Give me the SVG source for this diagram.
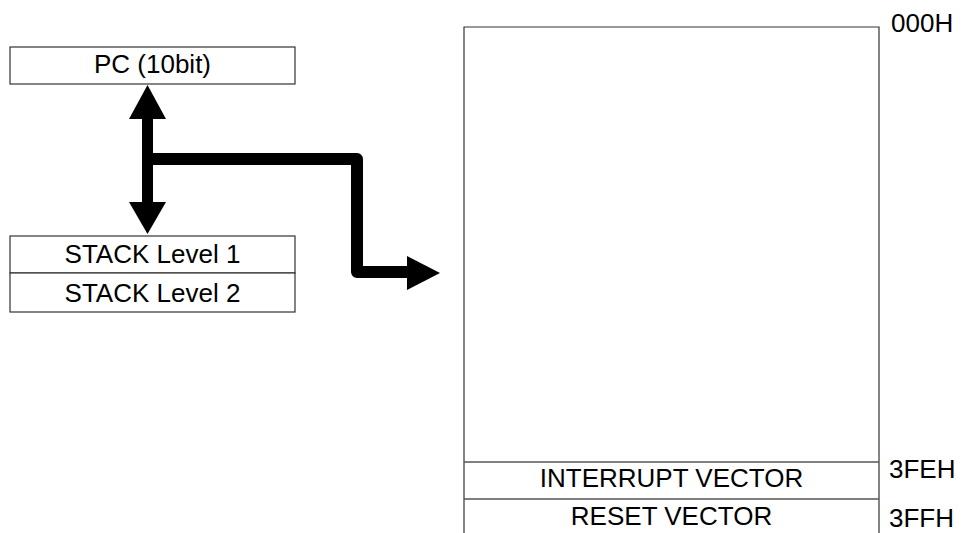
<svg xmlns="http://www.w3.org/2000/svg" width="962" height="533" viewBox="0 0 962 533">
<style>
.box{fill:#fff;stroke:#333;stroke-width:1.2}
.ln{stroke:#333;stroke-width:1.2;fill:none}
.sep{stroke:#555;stroke-width:1.6;fill:none}
text{font-family:"Liberation Sans",Arial,sans-serif;font-size:26px;fill:#000}
.c{text-anchor:middle}
.arr{fill:#000;stroke:none}
.wire{fill:none;stroke:#000;stroke-width:12;stroke-linejoin:round;stroke-linecap:butt}
</style>
<rect width="962" height="533" fill="#fff"/>
<g id="pc"><rect class="box" x="10" y="47" width="285" height="37"/><text class="c" x="152.5" y="73">PC (10bit)</text></g>
<g id="stack1"><rect class="box" x="10" y="236" width="285" height="37"/><text class="c" x="152.5" y="263">STACK Level 1</text></g>
<g id="stack2"><rect class="box" x="10" y="273" width="285" height="39"/><text class="c" x="152.5" y="302">STACK Level 2</text></g>
<g id="memory">
<path class="ln" d="M464,533 V27 H879 V533"/>
</g>
<g id="interrupt"><path class="sep" d="M464,462 H879"/><text class="c" x="671.5" y="487">INTERRUPT VECTOR</text></g>
<g id="reset"><path class="sep" d="M464,499 H879"/><text class="c" x="671.5" y="525">RESET VECTOR</text></g>
<g id="labels">
<text x="891" y="32">000H</text>
<text x="889" y="478">3FEH</text>
<text x="889" y="527">3FFH</text>
</g>
<g id="connectors">
<path class="arr" d="M147.5,85 L166,119 L153,119 L153,202 L166,202 L147.5,234 L129,202 L142,202 L142,119 L129,119 Z"/>
<path class="wire" d="M147,159 H357 V272 H410"/>
<path class="arr" d="M407,256 L440,273 L407,290 Z"/>
</g>
</svg>
